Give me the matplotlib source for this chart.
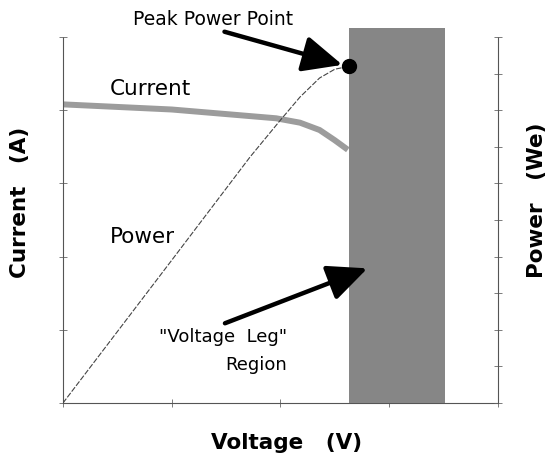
## plot.py
# power / current vs voltage sketch with the "voltage leg" region shaded

import matplotlib.pyplot as plt

# data (x in voltage units, current in A units, power in We units)
voltage_current = [0.0, 1.0, 1.96, 2.18, 2.36, 2.50, 2.62]
current = [4.08, 4.01, 3.89, 3.83, 3.73, 3.59, 3.46]

voltage_power = [0.0, 1.0, 1.72, 2.0, 2.18, 2.36, 2.50, 2.63]
power = [0.0, 3.9, 6.72, 7.73, 8.36, 8.88, 9.12, 9.2]

peak_voltage = 2.63
peak_power = 9.2

# voltage leg region bounds and height (left axis units)
leg_start = 2.63
leg_end = 3.51
leg_top = 5.12

x_ticks = [0, 1, 2, 3, 4]
current_ticks = [0, 1, 2, 3, 4, 5]
power_ticks = list(range(11))

plt.rcParams['font.family'] = ['DejaVu Sans']

fig = plt.figure(figsize=(5.52, 4.57), dpi=100)
ax = fig.add_axes([0.114, 0.118, 0.788, 0.801])
ax2 = ax.twinx()

# shaded region drawn on the power axis so it sits above the lines
ax2.bar((leg_start + leg_end) / 2, leg_top * 2, width=leg_end - leg_start, bottom=0,
        color="#868686", edgecolor="none", zorder=3, clip_on=False)

# current curve (thick grey)
ax.plot(voltage_current, current, color="#9c9c9c", linewidth=4.3, solid_capstyle="butt", zorder=2)

# power curve (thin dashed) and peak point
ax2.plot(voltage_power, power, color="#444444", linewidth=0.8, linestyle=(0, (5, 1.5)), zorder=2)
ax2.plot([peak_voltage], [peak_power], "o", color="black", markersize=10, zorder=4, clip_on=False)

# axes limits and ticks
ax.set_xlim(0, 4)
ax.set_ylim(0, 5)
ax2.set_ylim(0, 10)
ax.set_xticks(x_ticks)
ax.set_yticks(current_ticks)
ax2.set_yticks(power_ticks)
for a in (ax, ax2):
    a.tick_params(direction="inout", length=6, width=0.6, color="#666666",
                  labelleft=False, labelright=False, labelbottom=False)
    a.spines["top"].set_visible(False)
    for side in ("left", "right", "bottom"):
        a.spines[side].set_linestyle((0, (1, 1)))
        a.spines[side].set_linewidth(0.8)
        a.spines[side].set_color("#555555")
ax.spines["right"].set_visible(False)
ax2.spines["left"].set_visible(False)
ax2.spines["bottom"].set_visible(False)
ax.set_zorder(ax2.get_zorder() - 1)
ax2.patch.set_visible(False)

# annotations (on the top axes, positioned in current/voltage units)
ax.text(0.80, 4.29, "Current", fontsize=15.5, ha="center", va="center")
ax.text(0.73, 2.27, "Power", fontsize=15.5, ha="center", va="center")
ax.text(1.47, 0.90, "\"Voltage  Leg\"", fontsize=13, ha="center", va="center")
ax.text(1.78, 0.52, "Region", fontsize=13, ha="center", va="center")

arrow = dict(arrowstyle="-|>,head_length=1.1,head_width=0.5", lw=3.2, color="black",
             mutation_scale=22, shrinkA=0, shrinkB=0)
ax2.annotate("Peak Power Point", xy=(2.57, 4.62), xytext=(1.38, 5.24),
             xycoords=ax.transData, textcoords=ax.transData, fontsize=13.5,
             ha="center", va="center", annotation_clip=False, zorder=5,
             arrowprops=dict(arrow, relpos=(0.51, 0.0)))
ax2.annotate("", xy=(2.80, 1.84), xytext=(1.49, 1.09),
             xycoords=ax.transData, textcoords=ax.transData,
             annotation_clip=False, zorder=5, arrowprops=arrow)

# axis titles
fig.text(0.52, 0.031, "Voltage   (V)", fontsize=15.5, fontweight="bold", ha="center", va="center")
fig.text(0.036, 0.558, "Current   (A)", fontsize=15.5, fontweight="bold", ha="center", va="center",
         rotation=90)
fig.text(0.973, 0.562, "Power   (We)", fontsize=15.5, fontweight="bold", ha="center", va="center",
         rotation=90)

fig.savefig("out.png", dpi=100)
